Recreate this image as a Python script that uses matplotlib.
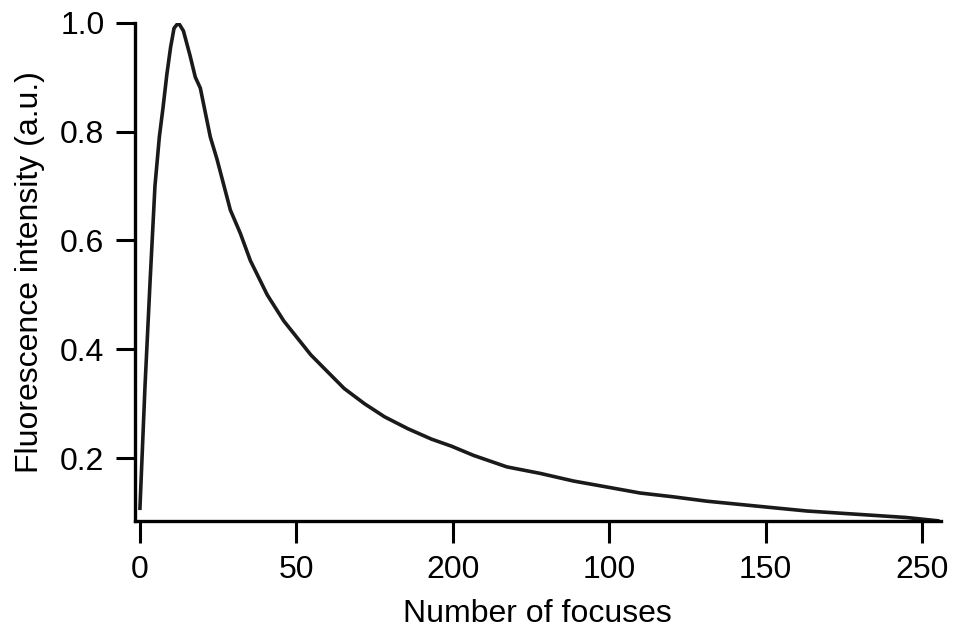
import matplotlib
matplotlib.use("Agg")
import matplotlib.pyplot as plt

# values
focuses = [0, 1.6, 3.2, 4.8, 6.2, 7.4, 8.6, 9.8, 10.9, 12.3, 13.9, 16, 17.7, 19.3,
           22.5, 24.6, 28.9, 32.1, 35.3, 40.7, 46, 50.3, 54.6, 58.9, 65.3, 71.8,
           78.2, 85.7, 93.2, 99.6, 106.7, 117.3, 128, 138.6, 149.3, 159.9, 170.5,
           181.2, 191.8, 202.4, 213.1, 223.7, 234.4, 245, 255]
intensity = [0.108, 0.33, 0.52, 0.70, 0.79, 0.845, 0.905, 0.955, 0.99, 1.0, 0.985,
             0.94, 0.90, 0.88, 0.79, 0.75, 0.656, 0.613, 0.563, 0.50, 0.452, 0.421,
             0.39, 0.365, 0.328, 0.30, 0.276, 0.254, 0.235, 0.222, 0.205, 0.184,
             0.172, 0.158, 0.147, 0.136, 0.129, 0.121, 0.115, 0.109, 0.103, 0.099,
             0.095, 0.091, 0.085]
xticks = [0, 50, 100, 150, 200, 250]
xticklabels = ['0', '50', '200', '100', '150', '250']
yticks = [0.2, 0.4, 0.6, 0.8, 1.0]

plt.rcParams['font.family'] = ['Liberation Sans', 'DejaVu Sans']

fig = plt.figure(figsize=(9.57, 6.32), dpi=100)
ax = fig.add_axes([0.141, 0.176, 0.842, 0.788])

ax.plot(focuses, intensity, color='#1a1a1a', linewidth=2.6)

ax.set_xlim(-1.6, 256)
ax.set_ylim(0.085, 1.0)
ax.set_xticks(xticks)
ax.set_xticklabels(xticklabels)
ax.set_yticks(yticks)
ax.set_yticklabels(['%.1f' % v for v in yticks])

for s in ['top', 'right']:
    ax.spines[s].set_visible(False)
for s in ['left', 'bottom']:
    ax.spines[s].set_linewidth(2.4)

ax.tick_params(direction='out', width=2.2, labelsize=23)
ax.tick_params(axis='y', length=14, pad=8)
ax.tick_params(axis='x', length=16, pad=9)

ax.set_xlabel('Number of focuses', fontsize=23, labelpad=10)
ax.set_ylabel('Fluorescence intensity (a.u.)', fontsize=23, labelpad=11)

fig.savefig('out.png', dpi=100)
